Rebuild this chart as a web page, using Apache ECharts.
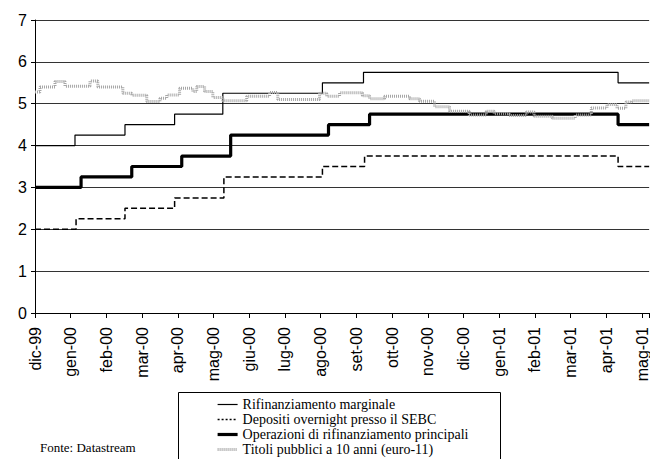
<!DOCTYPE html>
<html><head><meta charset="utf-8">
<script src="https://cdn.jsdelivr.net/npm/echarts@6/dist/echarts.min.js"></script>
<style>html,body{margin:0;padding:0;background:#fff}#c{width:650px;height:459px}</style>
</head><body><div id="c"></div>
<script>
// x values are in months since dic-99 (0 = dic-99, 1 = gen-00, ...)
const months = ['dic-99','gen-00','feb-00','mar-00','apr-00','mag-00','giu-00','lug-00','ago-00','set-00','ott-00','nov-00','dic-00','gen-01','feb-01','mar-01','apr-01','mag-01'];
const yTickValues = [0,1,2,3,4,5,6,7];
const seriesNames = ['Rifinanziamento marginale','Depositi overnight presso il SEBC','Operazioni di rifinanziamento principali','Titoli pubblici a 10 anni (euro-11)'];
const xEnd = 17.2;

const marginale = [[0,4.0],[1.12,4.25],[2.52,4.5],[3.91,4.75],[5.26,5.25],[8.05,5.5],[9.20,5.75],[16.33,5.5],[17.2,5.5]];
const depositi = [[0,2.0],[1.15,2.25],[2.52,2.5],[3.91,2.75],[5.29,3.25],[8.05,3.5],[9.23,3.75],[16.33,3.5],[17.2,3.5]];
const principali = [[0,3.0],[1.29,3.25],[2.71,3.5],[4.11,3.75],[5.48,4.25],[8.22,4.5],[9.37,4.75],[16.33,4.5],[17.2,4.5]];
const titoli = [[0,5.28],[0.14,5.40],[0.56,5.53],[0.84,5.42],[1.54,5.54],[1.76,5.40],[2.46,5.25],[2.71,5.20],[3.13,5.05],[3.50,5.13],[3.69,5.21],[4.05,5.37],[4.42,5.29],[4.53,5.41],[4.75,5.29],[4.98,5.15],[5.26,5.07],[5.93,5.18],[6.57,5.27],[6.80,5.10],[7.97,5.25],[8.17,5.18],[8.53,5.26],[9.17,5.19],[9.37,5.12],[9.79,5.18],[10.49,5.12],[10.77,5.06],[11.19,4.93],[11.61,4.82],[12.16,4.73],[12.64,4.82],[12.86,4.76],[13.28,4.72],[13.76,4.80],[13.98,4.70],[14.49,4.65],[15.13,4.73],[15.58,4.90],[16.02,4.98],[16.30,4.89],[16.55,5.04],[16.72,5.07],[17.2,5.07]];

const chart = echarts.init(document.getElementById('c'), null, {renderer:'svg'});
const sansFont = 'Liberation Sans';
const serifFont = 'Liberation Serif';
chart.setOption({
  animation:false,
  backgroundColor:'#fff',
  grid:{left:35, right:0, top:20, bottom:146, containLabel:false},
  xAxis:{
    type:'value', min:0, max:xEnd, interval:1,
    axisLine:{show:true, lineStyle:{color:'#000', width:1}},
    axisTick:{show:true, length:5, lineStyle:{color:'#000'}},
    splitLine:{show:false},
    axisLabel:{rotate:90, margin:14, fontSize:16, fontFamily:sansFont, color:'#000',
      formatter:function(v){ return Number.isInteger(v) && months[v] ? months[v] : ''; }}
  },
  yAxis:{
    type:'value', min:yTickValues[0], max:yTickValues[yTickValues.length-1], interval:1,
    axisLine:{show:true, lineStyle:{color:'#000', width:1}},
    axisTick:{show:true, length:4, lineStyle:{color:'#000'}},
    splitLine:{show:true, lineStyle:{color:'#333', width:1}},
    axisLabel:{margin:8, fontSize:16, fontFamily:sansFont, color:'#000'}
  },
  legend:{
    orient:'vertical', left:176, top:390, height:70,
    padding:[7,10,6,40], itemGap:0, itemWidth:20, itemHeight:14,
    borderWidth:0,
    itemStyle:{opacity:0},
    lineStyle:{width:'inherit'},
    data:[
      {name:seriesNames[0]},
      {name:seriesNames[1], lineStyle:{type:[2,2]}},
      {name:seriesNames[2]},
      {name:seriesNames[3]}
    ],
    textStyle:{fontFamily:serifFont, fontSize:14, lineHeight:15, color:'#000'}
  },
  graphic:[
    {type:'rect', left:176, top:390, shape:{width:322, height:80}, style:{fill:'none', stroke:'#000', lineWidth:1}},
    {type:'text', left:40, top:441, style:{text:'Fonte: Datastream', font:'13px "Liberation Serif"', fill:'#000'}}
  ],
  series:[
    {name:seriesNames[0], type:'line', step:'end', symbol:'none', data:marginale, color:'#000',
      lineStyle:{color:'#000', width:1.2}, z:2},
    {name:seriesNames[1], type:'line', step:'end', symbol:'none', data:depositi, color:'#000',
      lineStyle:{color:'#000', width:1.5, type:[6,3]}, z:2},
    {name:seriesNames[2], type:'line', step:'end', symbol:'none', data:principali, color:'#000',
      lineStyle:{color:'#000', width:3.2}, z:3},
    {name:seriesNames[3], type:'line', step:'end', symbol:'none', data:titoli, color:'#aaa',
      lineStyle:{color:'#a6a6a6', width:3, type:[1,1]}, z:4}
  ]
});
</script>
</body></html>
